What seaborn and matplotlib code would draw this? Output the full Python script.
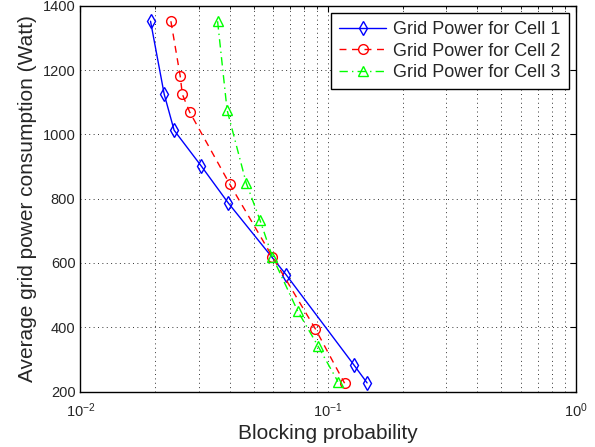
import numpy as np
import pandas as pd
import matplotlib
matplotlib.use("Agg")
import matplotlib.pyplot as plt
import seaborn as sns
from matplotlib.ticker import LogLocator, NullFormatter, MultipleLocator

# valores
bp_cell1 = [0.0192, 0.0218, 0.0239, 0.0308, 0.0395, 0.0679, 0.127, 0.1436]
pw_cell1 = [1352, 1125, 1013, 901, 787, 562, 283, 227]
bp_cell2 = [0.0232, 0.0253, 0.0258, 0.0276, 0.0401, 0.0596, 0.0888, 0.1165]
pw_cell2 = [1352, 1181, 1125, 1070, 845, 619, 395, 226]
bp_cell3 = [0.0358, 0.0391, 0.0467, 0.0531, 0.0596, 0.0753, 0.0908, 0.1095]
pw_cell3 = [1352, 1076, 849, 733, 619, 451, 343, 231]
labels = ['Grid Power for Cell 1', 'Grid Power for Cell 2', 'Grid Power for Cell 3']

sns.set_style('white')
plt.rcParams['font.family'] = ['Liberation Sans', 'DejaVu Sans']
plt.rcParams['mathtext.fontset'] = 'custom'
plt.rcParams['mathtext.rm'] = 'Liberation Sans'
plt.rcParams['mathtext.it'] = 'Liberation Sans'

fig = plt.figure(figsize=(5.95, 4.47), dpi=100)
ax = fig.add_axes([0.135, 0.124, 0.833, 0.863])

estilos = [
    (bp_cell1, pw_cell1, labels[0], (0, 0, 1), '-', 'd', 7.5),
    (bp_cell2, pw_cell2, labels[1], (1, 0, 0), (0, (5, 4)), 'o', 7),
    (bp_cell3, pw_cell3, labels[2], (0, 1, 0), (0, (6, 3, 1, 3)), '^', 7),
]
for bp, pw, lab, cor, ls, mk, ms in estilos:
    df = pd.DataFrame({'bp': bp, 'pw': pw})
    sns.lineplot(data=df, x='bp', y='pw', ax=ax, color=cor, linestyle=ls,
                 marker=mk, markersize=ms, markerfacecolor='none',
                 markeredgecolor=cor, markeredgewidth=1.0, linewidth=1.0,
                 label=lab, sort=False, estimator=None)

ax.set_xscale('log')
ax.set_xlim(1e-2, 1)
ax.set_ylim(200, 1400)
ax.yaxis.set_major_locator(MultipleLocator(200))
ax.xaxis.set_minor_locator(LogLocator(base=10, subs=np.arange(2, 10)))
ax.xaxis.set_minor_formatter(NullFormatter())

grade = dict(linestyle=(0, (1, 3.5)), color='0.2', linewidth=0.7)
ax.grid(True, which='major', **grade)
ax.grid(True, which='minor', axis='x', **grade)
ax.tick_params(which='both', direction='in', top=True, right=True, labelsize=10.5,
               color='black')
ax.tick_params(which='major', length=4)
ax.tick_params(which='minor', length=2)
ax.tick_params(axis='x', which='major', pad=7)
for s in ax.spines.values():
    s.set_color('black')
    s.set_linewidth(1.0)

ax.set_xlabel('Blocking probability', fontsize=15, labelpad=3)
ax.set_ylabel('Average grid power consumption (Watt)', fontsize=15, labelpad=4)

leg = ax.legend(loc='upper right', fontsize=13, frameon=True, fancybox=False,
                edgecolor='black', framealpha=1, handlelength=2.6,
                borderpad=0.45, labelspacing=0.25, handletextpad=0.4,
                borderaxespad=0.4)
leg.get_frame().set_linewidth(1.0)

fig.savefig('out.png', dpi=100)
